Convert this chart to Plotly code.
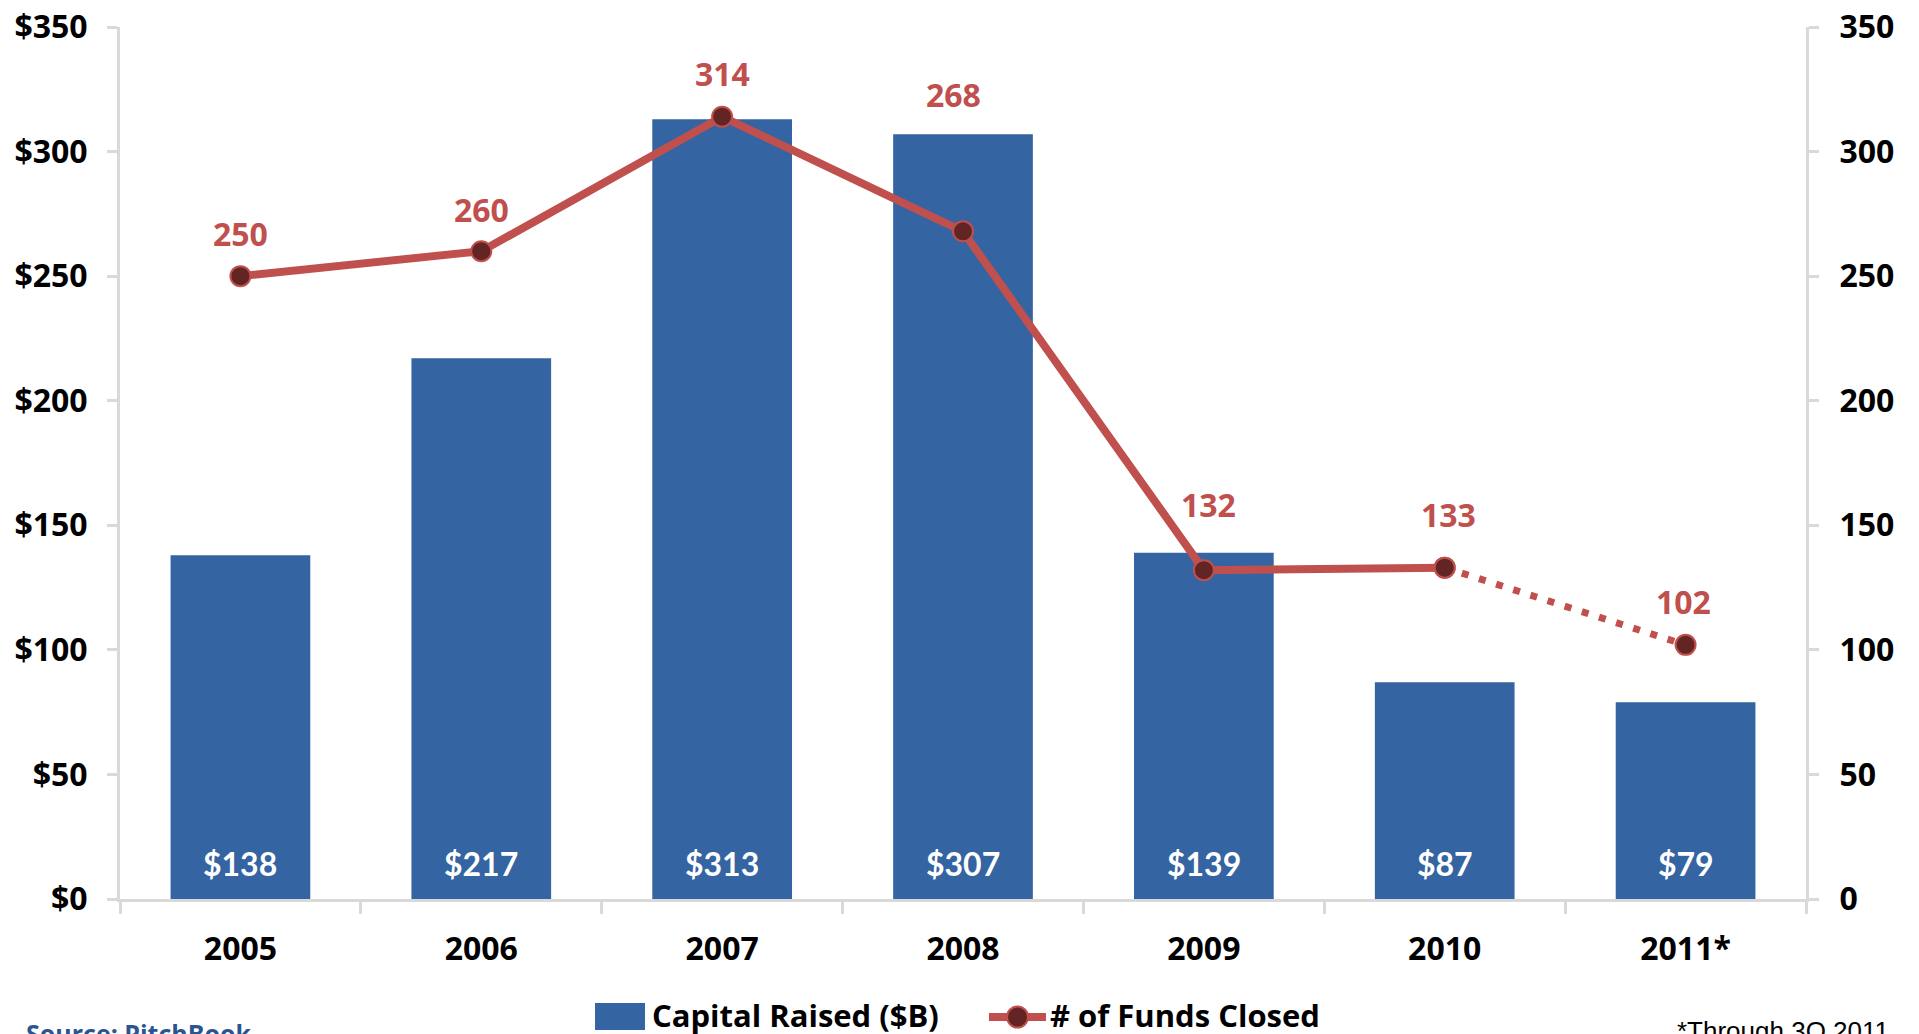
import plotly.graph_objects as go

years = ["2005", "2006", "2007", "2008", "2009", "2010", "2011*"]
capital_raised = [138, 217, 313, 307, 139, 87, 79]
funds_closed = [250, 260, 314, 268, 132, 133, 102]
left_ticks = [0, 50, 100, 150, 200, 250, 300, 350]

# label offsets above the points (px), as placed in the original
label_shift = [43, 42, 43, 137, 66, 53, 43]
label_xshift = [0, 0, 0, -10, 5, 4, -2]

BLUE = "#3464A2"
RED = "#C0504D"
DARK = "#632523"
GRID = "#D9D9D9"
TICKFONT = dict(family="Open Sans", size=32, color="black", weight="bold")

W, H = 1919, 1034
ML, MR, MT, MB = 120, 113, 27, 135
PW, PH = W - ML - MR, H - MT - MB


def px(x):
    return (x - ML) / PW


def py(y):
    return (H - MB - y) / PH


xpos = list(range(len(years)))

fig = go.Figure()

fig.add_trace(go.Bar(
    x=xpos, y=capital_raised, name="Capital Raised ($B)",
    marker=dict(color=BLUE, line=dict(width=0)),
    width=0.58, yaxis="y",
))

# solid part of the line
fig.add_trace(go.Scatter(
    x=xpos[:6], y=funds_closed[:6], name="# of Funds Closed",
    mode="lines+markers", yaxis="y2",
    line=dict(color=RED, width=8),
    marker=dict(size=20, color=DARK, line=dict(color=RED, width=2)),
))
# dotted projection segment
fig.add_trace(go.Scatter(
    x=xpos[5:], y=funds_closed[5:], name="# of Funds Closed",
    mode="lines+markers", yaxis="y2",
    line=dict(color=RED, width=7, dash="7px,11px"),
    marker=dict(size=20, color=DARK, line=dict(color=RED, width=2)),
))

annotations = []
for i, v in zip(xpos, capital_raised):
    annotations.append(dict(
        x=i, y=0, xref="x", yref="y", text=f"${v}", showarrow=False,
        yanchor="middle", yshift=36,
        font=dict(family="Lato", size=32, color="white", weight="bold"),
    ))
for i, v, dy, dx in zip(xpos, funds_closed, label_shift, label_xshift):
    annotations.append(dict(
        x=i, y=v, xref="x", yref="y2", text=str(v), showarrow=False,
        yanchor="middle", yshift=dy, xshift=dx,
        font=dict(family="Open Sans", size=32, color=RED, weight="bold"),
    ))

# footer texts
annotations.append(dict(
    x=px(24), y=py(1014), xref="paper", yref="paper", xanchor="left", yanchor="top",
    text="Source: PitchBook", showarrow=False,
    font=dict(family="Open Sans", size=25, color="#2B5592", weight="bold"),
))
annotations.append(dict(
    x=px(1891), y=py(1014), xref="paper", yref="paper", xanchor="right", yanchor="top",
    text="*Through 3Q 2011", showarrow=False,
    font=dict(family="Liberation Sans", size=26, color="black"),
))

# legend drawn by hand to match the original's large swatches
LEG_Y = 1015
annotations.append(dict(
    x=px(650), y=py(LEG_Y), xref="paper", yref="paper", xanchor="left", yanchor="middle",
    text="Capital Raised ($B)", showarrow=False,
    font=dict(family="Open Sans", size=31, color="black", weight="bold"),
))
annotations.append(dict(
    x=px(1048), y=py(LEG_Y), xref="paper", yref="paper", xanchor="left", yanchor="middle",
    text="# of Funds Closed", showarrow=False,
    font=dict(family="Open Sans", size=31, color="black", weight="bold"),
))
shapes = [
    dict(type="rect", xref="paper", yref="paper",
         x0=px(595), x1=px(645), y0=py(1003), y1=py(1030),
         fillcolor=BLUE, line=dict(width=0)),
    dict(type="line", xref="paper", yref="paper",
         x0=px(989), x1=px(1046), y0=py(LEG_Y + 2), y1=py(LEG_Y + 2),
         line=dict(color=RED, width=8)),
    dict(type="circle", xref="paper", yref="paper",
         x0=px(1007), x1=px(1028), y0=py(LEG_Y + 2 - 10.5), y1=py(LEG_Y + 2 + 10.5),
         fillcolor=DARK, line=dict(color=RED, width=2)),
]

fig.update_layout(
    width=W, height=H,
    margin=dict(l=ML, r=MR, t=MT, b=MB, autoexpand=False),
    paper_bgcolor="white", plot_bgcolor="white",
    showlegend=False,
    xaxis=dict(
        range=[-0.5, len(years) - 0.5], tickvals=xpos, ticktext=years,
        showgrid=False, zeroline=False, fixedrange=True, automargin=False,
        showline=True, linecolor=GRID, linewidth=3,
        ticks="", tickfont=TICKFONT, ticklabelstandoff=20, tickangle=0,
        minor=dict(ticks="outside", tick0=-0.5, dtick=1, ticklen=12,
                   tickwidth=3, tickcolor=GRID, showgrid=False),
    ),
    yaxis=dict(
        range=[0, 350], tickvals=left_ticks, ticktext=[f"${t}" for t in left_ticks],
        showgrid=False, zeroline=False, automargin=False, ticklabeloverflow="allow",
        showline=True, linecolor=GRID, linewidth=3,
        ticks="outside", ticklen=10, tickwidth=3, tickcolor=GRID,
        tickfont=TICKFONT, ticklabelstandoff=13,
    ),
    yaxis2=dict(
        range=[0, 350], tickvals=left_ticks, ticktext=[str(t) for t in left_ticks],
        overlaying="y", side="right", automargin=False, ticklabeloverflow="allow",
        showgrid=False, zeroline=False,
        showline=True, linecolor=GRID, linewidth=3,
        ticks="outside", ticklen=10, tickwidth=3, tickcolor=GRID,
        tickfont=TICKFONT, ticklabelstandoff=14,
    ),
    annotations=annotations,
    shapes=shapes,
)

fig.write_html("out.html")
